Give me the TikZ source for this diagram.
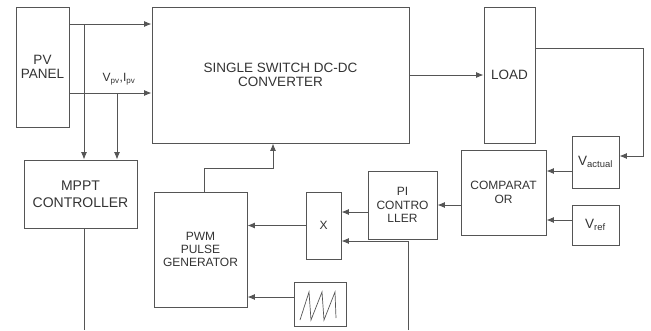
\documentclass[tikz,border=0pt]{standalone}
\usepackage{fontspec}
\setmainfont{Liberation Sans}
\usetikzlibrary{arrows.meta, positioning}
\definecolor{lineGray}{HTML}{555555}
\definecolor{textGray}{HTML}{333333}

\begin{document}
\begin{tikzpicture}[
    x=1pt, y=-1pt,
    blk/.style={rectangle, draw=lineGray, line width=0.9pt, inner sep=2pt,
                text=textGray, align=center,
                font=\fontsize{13.5}{14}\selectfont},
    smallblk/.style={blk, font=\fontsize{12}{13.3}\selectfont},
    wire/.style={draw=lineGray, line width=0.9pt},
    arr/.style={wire, -{Latex[length=7.5pt, width=6pt]}},
  ]
    \useasboundingbox (0,0) rectangle (651,330);

    % blocks
    \node[blk, minimum width=53pt, minimum height=120pt] (pv) at (42.5,67) {PV\\PANEL};
    \node[blk, minimum width=257pt, minimum height=136pt] (conv) at (280.5,75)
      {SINGLE SWITCH DC-DC\\CONVERTER};
    \node[blk, minimum width=51pt, minimum height=136pt] (load) at (509.5,75) {LOAD};
    \node[blk, minimum width=113pt, minimum height=68pt,
          font=\fontsize{14}{17}\selectfont] (mppt) at (80.5,194) {MPPT\\CONTROLLER};
    \node[smallblk, minimum width=93pt, minimum height=115pt] (pwm) at (200.5,249.5)
      {PWM\\PULSE\\GENERATOR};
    \node[smallblk, minimum width=35pt, minimum height=67pt] (mult) at (323.5,225.5) {X};
    \node[blk, minimum width=52pt, minimum height=44pt] (saw) at (320,304) {};
    \node[smallblk, minimum width=69pt, minimum height=68pt] (pi) at (402.5,205)
      {PI\\CONTRO\\LLER};
    \node[smallblk, minimum width=85pt, minimum height=85pt] (comp) at (503.5,192.5)
      {COMPARAT\\OR};
    \node[blk, minimum width=47pt, minimum height=52pt] (vact) at (595.5,162)
      {V\textsubscript{actual}};
    \node[blk, minimum width=47pt, minimum height=40pt] (vref) at (595.5,225)
      {V\textsubscript{ref}};

    % sawtooth
    \begin{scope}[shift={(saw.center)}]
      \draw[wire, line width=0.7pt] (-20,16) -- (-11,-12) -- (-9,16) -- (2,-12)
        -- (4,16) -- (15,-12) -- (16,14);
    \end{scope}

    % PV side
    \coordinate (j1) at (84,24);
    \coordinate (j2) at (117,93);
    \draw[arr] (pv.east |- j1) -- (conv.west |- j1);
    \draw[arr] (pv.east |- j2) -- (conv.west |- j2);
    \draw[arr] (j1) -- (j1 |- mppt.north);
    \draw[arr] (j2) -- (j2 |- mppt.north);
    \node[text=textGray, font=\fontsize{12}{13}\selectfont] (vpv) at (119,79)
      {V\textsubscript{pv},I\textsubscript{pv}};

    % power path and feedback
    \draw[arr] (conv.east) -- (load.west);
    \coordinate (fb1) at (643,48);
    \coordinate (fb2) at (643,156);
    \draw[arr] (load.east |- fb1) -- (fb1) -- (fb2) -- (vact.east |- fb2);
    \coordinate (r1) at (0,171);
    \coordinate (r2) at (0,220);
    \draw[arr] (vact.west |- r1) -- (comp.east |- r1);
    \draw[arr] (vref.west |- r2) -- (comp.east |- r2);
    \draw[arr] (comp.west |- pi.east) -- (pi.east);

    % control path
    \coordinate (r3) at (0,212);
    \coordinate (pib) at (408,330);
    \coordinate (pic) at (408,241);
    \draw[arr] (pi.west |- r3) -- (mult.east |- r3);
    \draw[arr] (pib) -- (pic) -- (mult.east |- pic);
    \draw[arr] (mult.west) -- (pwm.east |- mult.west);
    \coordinate (r4) at (0,297);
    \draw[arr] (saw.west |- r4) -- (pwm.east |- r4);
    \coordinate (c1) at (273,168);
    \draw[arr] ([xshift=4pt]pwm.north) |- (c1) -- (c1 |- conv.south);

    % MPPT output
    \coordinate (mb) at (84,330);
    \draw[wire] (mb |- mppt.south) -- (mb);
  \end{tikzpicture}
\end{document}
